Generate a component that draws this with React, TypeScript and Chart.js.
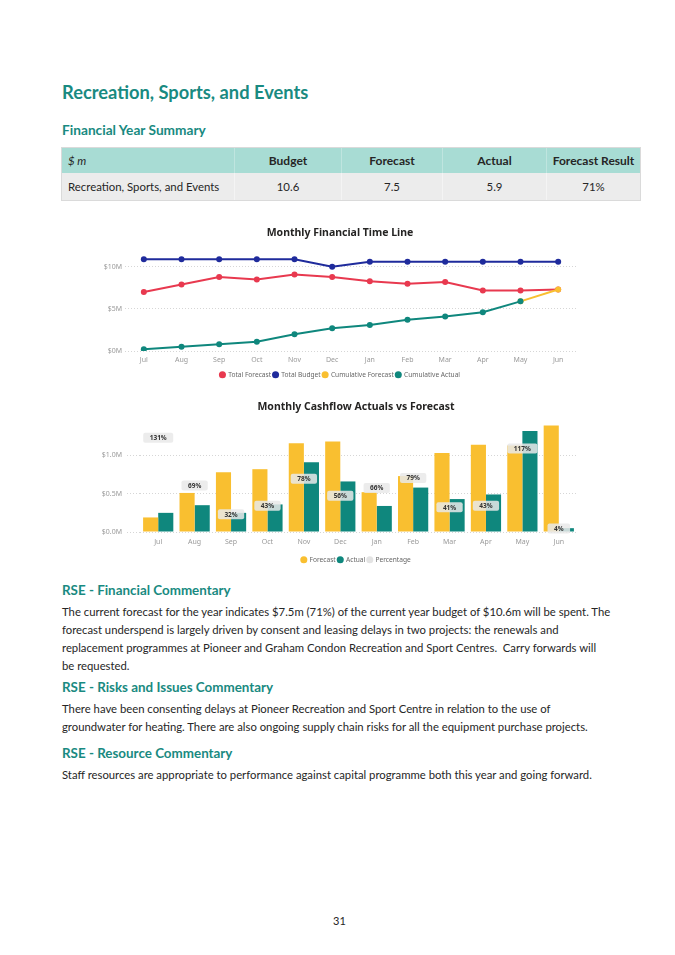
import React, { useEffect, useRef } from "react";
import { Chart, registerables } from "chart.js";

Chart.register(...registerables);

// ---------- data ----------
const months = ["Jul", "Aug", "Sep", "Oct", "Nov", "Dec", "Jan", "Feb", "Mar", "Apr", "May", "Jun"];

// Monthly Financial Time Line ($M)
const totalForecast = [7.0, 7.9, 8.8, 8.5, 9.1, 8.8, 8.3, 8.0, 8.2, 7.2, 7.2, 7.3];
const totalBudget = [10.9, 10.9, 10.9, 10.9, 10.9, 10.0, 10.6, 10.6, 10.6, 10.6, 10.6, 10.6];
const cumulativeForecast = [null, null, null, null, null, null, null, null, null, null, 5.9, 7.3];
const cumulativeActual = [0.2, 0.5, 0.8, 1.1, 2.0, 2.7, 3.1, 3.7, 4.1, 4.6, 5.9, null];

// Monthly Cashflow Actuals vs Forecast ($M, %)
const cashForecast = [0.19, 0.51, 0.78, 0.82, 1.16, 1.18, 0.52, 0.73, 1.03, 1.14, 1.13, 1.39];
const cashActual = [0.25, 0.35, 0.25, 0.36, 0.91, 0.66, 0.34, 0.58, 0.43, 0.49, 1.32, 0.05];
const cashPercentage = [131, 69, 32, 43, 78, 56, 66, 79, 41, 43, 117, 4];

// Financial Year Summary table
const tableHeaders = ["$ m", "Budget", "Forecast", "Actual", "Forecast Result"];
const tableRow = ["Recreation, Sports, and Events", "10.6", "7.5", "5.9", "71%"];

// ---------- styles ----------
const RED = "#e8394f";
const BLUE = "#1f2b9c";
const YELLOW = "#f9bf30";
const TEAL = "#0f877d";
const PCT_GREY = "#e3e3e3";
const HEAD = "#198a81";
const CHART_FONT = '"Noto Sans", sans-serif';
const DOC_FONT = 'Lato, "Noto Sans", sans-serif';
const BODY_SIZE = 11.3;

Chart.defaults.font.family = CHART_FONT;

const legendLabels = (chart: any) =>
  (Chart.defaults.plugins.legend.labels as any)
    .generateLabels(chart)
    .map((l: any) => ({ ...l, lineWidth: 0 }));

const legendOpts = {
  position: "bottom",
  labels: {
    usePointStyle: true,
    pointStyle: "circle",
    boxWidth: 5,
    boxHeight: 5,
    padding: 2,
    color: "#666",
    font: { size: 6.6 },
    generateLabels: legendLabels,
    sort: (a: any, b: any) => a.datasetIndex - b.datasetIndex,
  },
};

function LineChart() {
  const ref = useRef<HTMLCanvasElement>(null);
  useEffect(() => {
    const chart = new Chart(ref.current as HTMLCanvasElement, {
      type: "line",
      data: {
        labels: months,
        datasets: [
          { label: "Total Forecast", data: totalForecast, borderColor: RED, backgroundColor: RED, order: 2 },
          { label: "Total Budget", data: totalBudget, borderColor: BLUE, backgroundColor: BLUE, order: 2 },
          { label: "Cumulative Forecast", data: cumulativeForecast, borderColor: YELLOW, backgroundColor: YELLOW, order: 1 },
          { label: "Cumulative Actual", data: cumulativeActual, borderColor: TEAL, backgroundColor: TEAL, order: 0 },
        ] as any,
      },
      options: {
        animation: false,
        responsive: true,
        maintainAspectRatio: false,
        elements: {
          line: { borderWidth: 2, tension: 0 },
          point: { radius: 3, borderWidth: 0, hoverRadius: 3 },
        },
        plugins: {
          title: {
            display: true,
            text: "Monthly Financial Time Line",
            color: "#252423",
            font: { size: 10.5, weight: "bold", lineHeight: 1.2 },
            padding: { top: 6.7, bottom: 10.7 },
          },
          legend: legendOpts,
          tooltip: { enabled: false },
        },
        scales: {
          x: {
            offset: true,
            grid: { display: false, drawTicks: false },
            border: { display: false },
            ticks: { color: "#9a9a9a", font: { size: 7 }, padding: 5, maxRotation: 0, autoSkip: false },
            afterFit: (s: any) => { s.height = 18.4; },
          },
          y: {
            min: 0,
            max: 12,
            grid: { color: "#d6d6d6", drawTicks: false },
            border: { display: false, dash: [1, 2] },
            ticks: {
              stepSize: 5,
              includeBounds: false,
              padding: 3,
              color: "#9a9a9a",
              font: { size: 7 },
              callback: (v: any) => `$${v}M`,
            },
            afterFit: (s: any) => { s.width = 65; },
          },
          yR: {
            position: "right",
            grid: { display: false, drawTicks: false },
            border: { display: false },
            ticks: { display: false },
            afterFit: (s: any) => { s.width = 43; },
          },
        },
      } as any,
    });
    return () => chart.destroy();
  }, []);
  return (
    <div style={{ position: "absolute", left: 60, top: 220, width: 560, height: 168 }}>
      <canvas ref={ref} />
    </div>
  );
}

const pctLabelPlugin = {
  id: "pctLabels",
  afterDatasetsDraw(chart: any) {
    const idx = chart.data.datasets.findIndex((d: any) => d.label === "Percentage");
    if (idx < 0) return;
    const meta = chart.getDatasetMeta(idx);
    const { ctx, chartArea } = chart;
    ctx.save();
    ctx.font = `bold 6.5px ${CHART_FONT}`;
    meta.data.forEach((pt: any, i: number) => {
      const text = `${cashPercentage[i]}%`;
      const w = ctx.measureText(text).width + 13;
      const h = 10;
      const x = pt.x;
      const y = Math.min(pt.y, chartArea.bottom - 3.5);
      ctx.fillStyle = "rgba(233,233,233,0.85)";
      ctx.beginPath();
      (ctx as any).roundRect(x - w / 2, y - h / 2, w, h, 2);
      ctx.fill();
      ctx.fillStyle = "#333";
      ctx.textAlign = "center";
      ctx.textBaseline = "middle";
      ctx.fillText(text, x, y + 0.5);
    });
    ctx.restore();
  },
};

function BarChart() {
  const ref = useRef<HTMLCanvasElement>(null);
  useEffect(() => {
    const chart = new Chart(ref.current as HTMLCanvasElement, {
      type: "bar",
      data: {
        labels: months,
        datasets: [
          { type: "bar", label: "Forecast", data: cashForecast, backgroundColor: YELLOW, yAxisID: "y", categoryPercentage: 0.83, barPercentage: 1, order: 2 },
          { type: "bar", label: "Actual", data: cashActual, backgroundColor: TEAL, yAxisID: "y", categoryPercentage: 0.83, barPercentage: 1, order: 2 },
          { type: "line", label: "Percentage", data: cashPercentage, yAxisID: "y1", showLine: false, pointRadius: 0, pointHoverRadius: 0, borderWidth: 0, backgroundColor: PCT_GREY, borderColor: PCT_GREY, order: 0 },
        ] as any,
      },
      options: {
        animation: false,
        responsive: true,
        maintainAspectRatio: false,
        plugins: {
          title: {
            display: true,
            text: "Monthly Cashflow Actuals vs Forecast",
            color: "#252423",
            font: { size: 10.5, weight: "bold", lineHeight: 1.2 },
            padding: { top: 5.7, bottom: 10.7 },
          },
          legend: legendOpts,
          tooltip: { enabled: false },
        },
        scales: {
          x: {
            offset: true,
            grid: { display: false, drawTicks: false },
            border: { display: false },
            ticks: { color: "#9a9a9a", font: { size: 7 }, padding: 6, maxRotation: 0, autoSkip: false },
            afterFit: (s: any) => { s.height = 22.4; },
          },
          y: {
            min: 0,
            max: 1.41,
            grid: { color: "#d6d6d6", drawTicks: true, tickLength: 13, tickColor: "#d6d6d6", tickBorderDash: [1, 2] },
            border: { display: false, dash: [1, 2] },
            ticks: {
              stepSize: 0.5,
              includeBounds: false,
              padding: 5,
              color: "#9a9a9a",
              font: { size: 7 },
              callback: (v: any) => `$${Number(v).toFixed(1)}M`,
            },
            afterFit: (s: any) => { s.width = 80; },
          },
          y1: {
            position: "right",
            min: 8.9,
            max: 148.8,
            grid: { display: false, drawTicks: false },
            border: { display: false },
            ticks: { display: false },
            afterFit: (s: any) => { s.width = 75; },
          },
        },
      } as any,
      plugins: [pctLabelPlugin],
    });
    return () => chart.destroy();
  }, []);
  return (
    <div style={{ position: "absolute", left: 60, top: 395, width: 592, height: 178 }}>
      <canvas ref={ref} />
    </div>
  );
}

const colWidths = [172, 107, 101, 104, 94];

function Line({ top, children, size = BODY_SIZE, bold = false, color = "#262626", left = 62 }: any) {
  return (
    <div
      style={{
        position: "absolute",
        left,
        top,
        height: 18,
        lineHeight: "18px",
        fontSize: size,
        fontWeight: bold ? 700 : 400,
        color,
        whiteSpace: "nowrap",
        fontFamily: DOC_FONT,
      }}
    >
      {children}
    </div>
  );
}

export default function App() {
  return (
    <div style={{ position: "absolute", left: 0, top: 0, width: 675, height: 955, background: "#fff", fontFamily: DOC_FONT, overflow: "hidden" }}>
      <div style={{ position: "absolute", left: 62, top: 80, lineHeight: "24px", fontSize: 18.3, fontWeight: 700, color: HEAD, whiteSpace: "nowrap" }}>
        Recreation, Sports, and Events
      </div>
      <Line top={121} size={13.7} bold color={HEAD}>Financial Year Summary</Line>

      <div style={{ position: "absolute", left: 61, top: 147, width: 580, border: "1px solid #dadada", boxSizing: "border-box", fontSize: 11.4, color: "#262626" }}>
        <div style={{ display: "flex", height: 25, background: "#a8dcd4" }}>
          {tableHeaders.map((h, i) => (
            <div
              key={h}
              style={{
                width: colWidths[i],
                lineHeight: "25px",
                textAlign: i === 0 ? "left" : "center",
                paddingLeft: i === 0 ? 6 : 0,
                boxSizing: "border-box",
                fontWeight: i === 0 ? 400 : 700,
                fontSize: i === 0 ? 11.4 : 12,
                fontStyle: i === 0 ? "italic" : "normal",
                borderLeft: i === 0 ? "none" : "1px solid #bfe5df",
              }}
            >
              {h}
            </div>
          ))}
        </div>
        <div style={{ display: "flex", height: 27, background: "#ececec" }}>
          {tableRow.map((c, i) => (
            <div
              key={i}
              style={{
                width: colWidths[i],
                lineHeight: "27px",
                textAlign: i === 0 ? "left" : "center",
                paddingLeft: i === 0 ? 6 : 0,
                boxSizing: "border-box",
                borderLeft: i === 0 ? "none" : "1px solid #f4f4f4",
              }}
            >
              {c}
            </div>
          ))}
        </div>
      </div>

      <LineChart />
      <BarChart />

      <Line top={581} size={13.4} bold color={HEAD}>RSE - Financial Commentary</Line>
      <Line top={603}>The current forecast for the year indicates $7.5m (71%) of the current year budget of $10.6m will be spent. The</Line>
      <Line top={621}>forecast underspend is largely driven by consent and leasing delays in two projects: the renewals and</Line>
      <Line top={639}>replacement programmes at Pioneer and Graham Condon Recreation and Sport Centres.&nbsp; Carry forwards will</Line>
      <Line top={657}>be requested.</Line>

      <Line top={678} size={13.4} bold color={HEAD}>RSE - Risks and Issues Commentary</Line>
      <Line top={700}>There have been consenting delays at Pioneer Recreation and Sport Centre in relation to the use of</Line>
      <Line top={718}>groundwater for heating. There are also ongoing supply chain risks for all the equipment purchase projects.</Line>

      <Line top={744} size={13.4} bold color={HEAD}>RSE - Resource Commentary</Line>
      <Line top={766}>Staff resources are appropriate to performance against capital programme both this year and going forward.</Line>

      <Line top={912} left={333} size={11}>31</Line>
    </div>
  );
}
